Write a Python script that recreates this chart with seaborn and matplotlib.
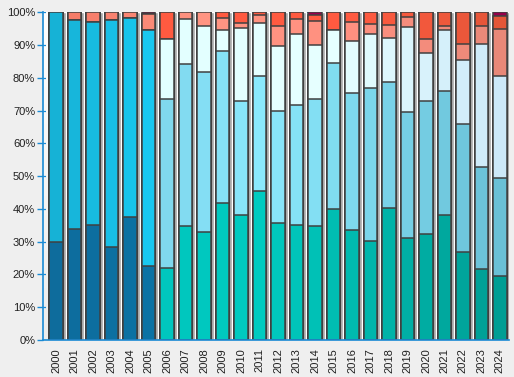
import numpy as np
import pandas as pd
import matplotlib
matplotlib.use('Agg')
import matplotlib.pyplot as plt
import seaborn as sns
from matplotlib.colors import to_rgb, to_hex

# dados (percentual de cada faixa por ano)
anos = [str(a) for a in range(2000, 2025)]
serie_1 = [30.0, 33.9, 35.1, 28.3, 37.5, 22.5, 22.1, 34.8, 32.9, 41.8, 38.1, 45.6, 35.7,
           35.1, 34.8, 40.0, 33.5, 30.2, 40.3, 31.1, 32.3, 38.1, 26.8, 21.6, 19.5]
serie_2 = [70.0, 63.9, 62.0, 69.5, 60.8, 72.2, 51.6, 49.5, 48.8, 46.5, 35.0, 35.0, 34.2,
           36.7, 38.8, 44.6, 41.9, 46.8, 38.5, 38.5, 40.7, 37.9, 39.2, 31.2, 29.9]
serie_3 = [0, 0, 0, 0, 0, 0, 18.3, 13.7, 14.2, 6.4, 22.2, 16.2, 19.9,
           21.7, 16.5, 10.1, 15.9, 16.5, 13.4, 26.0, 14.7, 18.7, 19.5, 37.6, 31.2]
serie_4 = [0, 2.2, 2.9, 2.2, 1.7, 4.8, 0, 2.0, 4.1, 3.6, 1.5, 2.5, 6.1,
           4.5, 7.3, 0, 5.8, 3.0, 4.0, 3.1, 4.3, 1.2, 4.9, 5.5, 14.4]
serie_5 = [0, 0, 0, 0, 0, 0, 8.0, 0, 0, 1.7, 3.2, 0.7, 4.1,
           2.0, 1.9, 5.3, 2.9, 3.5, 3.8, 1.3, 8.0, 4.1, 9.6, 4.1, 4.0]
serie_6 = [0, 0, 0, 0, 0, 0.5, 0, 0, 0, 0, 0, 0, 0,
           0, 0.7, 0, 0, 0, 0, 0, 0, 0, 0, 0, 1.0]

series = ['s1', 's2', 's3', 's4', 's5', 's6']
df = pd.DataFrame({'ano': anos, 's1': serie_1, 's2': serie_2, 's3': serie_3,
                   's4': serie_4, 's5': serie_5, 's6': serie_6})
# normalizar para 100%
df[series] = df[series].div(df[series].sum(axis=1), axis=0) * 100
acumulado = df[series].cumsum(axis=1)


def gradiente(ancoras, n):
    # interpolar cores entre ancoras (indice, cor)
    idx = [a[0] for a in ancoras]
    rgb = np.array([to_rgb(a[1]) for a in ancoras])
    return [to_hex([np.interp(i, idx, rgb[:, k]) for k in range(3)]) for i in range(n)]


n = len(anos)
cores = [
    gradiente([(0, '#0e6c9c'), (5, '#0b72a4'), (6, '#00c6be'), (11, '#00cbc0'), (24, '#009e94')], n),
    gradiente([(0, '#16b2d6'), (5, '#19c8f0'), (6, '#80d8ee'), (11, '#8ae8fc'), (24, '#6ac0d6')], n),
    gradiente([(0, '#e0ffff'), (15, '#e6ffff'), (24, '#cce8f8')], n),
    gradiente([(0, '#f47864'), (8, '#ff9482'), (16, '#ff9080'), (24, '#e88878')], n),
    gradiente([(0, '#ff5a40'), (16, '#ff5a40'), (24, '#e45638')], n),
    gradiente([(0, '#a0004c'), (24, '#96004a')], n),
]

sns.set_style('white')
plt.rcParams['font.family'] = ['Liberation Sans', 'DejaVu Sans']

azul = '#1a8ad4'
fig = plt.figure(figsize=(5.14, 3.77), dpi=100, facecolor='#efefef')
ax = fig.add_axes([0.0846, 0.0981, 0.906, 0.869])

# fundo com leve gradiente
fundo = np.linspace(1.0, 0.93, 100).reshape(-1, 1)
ax.imshow(np.dstack([fundo, fundo, fundo]), extent=[0, 1, 0, 1], transform=ax.transAxes,
          aspect='auto', zorder=0, origin='upper')

# sombra das barras
ax.bar(np.arange(n) + 0.16, acumulado['s6'], width=0.72, color='#a8a8a8', zorder=0.8)

# barras empilhadas: da camada mais alta para a mais baixa
for k in reversed(range(len(series))):
    sns.barplot(x=df['ano'], y=acumulado[series[k]], hue=df['ano'], palette=cores[k],
                order=anos, hue_order=anos, legend=False, saturation=1, width=0.72,
                errorbar=None, edgecolor='#404040', linewidth=1.1, ax=ax, zorder=2)

ax.set_xlim(-0.68, n - 0.5)
ax.set_ylim(0, 100)
ax.set_xlabel('')
ax.set_ylabel('')

ax.set_yticks(range(0, 101, 10))
ax.set_yticklabels([f'{v}%' for v in range(0, 101, 10)], fontsize=8, color='#202020')
ax.set_xticks(range(n))
ax.set_xticklabels(anos, rotation=90, fontsize=8, color='#202020')
ax.set_xticks(np.arange(n) + 0.5, minor=True)
ax.tick_params(axis='x', which='major', length=0, pad=6)
ax.tick_params(axis='x', which='minor', length=4, color=azul, width=1, direction='out')
ax.tick_params(axis='y', length=4, color=azul, width=1, direction='out', pad=2, left=True)

ax.grid(axis='y', color=azul, linestyle=(0, (2, 3)), linewidth=0.9)
ax.grid(axis='x', visible=False)
ax.set_axisbelow(True)

for lado in ['top', 'right']:
    ax.spines[lado].set_visible(False)
for lado in ['left', 'bottom']:
    ax.spines[lado].set_color(azul)
    ax.spines[lado].set_linewidth(1.2)

plt.savefig('out.png', dpi=100, facecolor='#efefef')
